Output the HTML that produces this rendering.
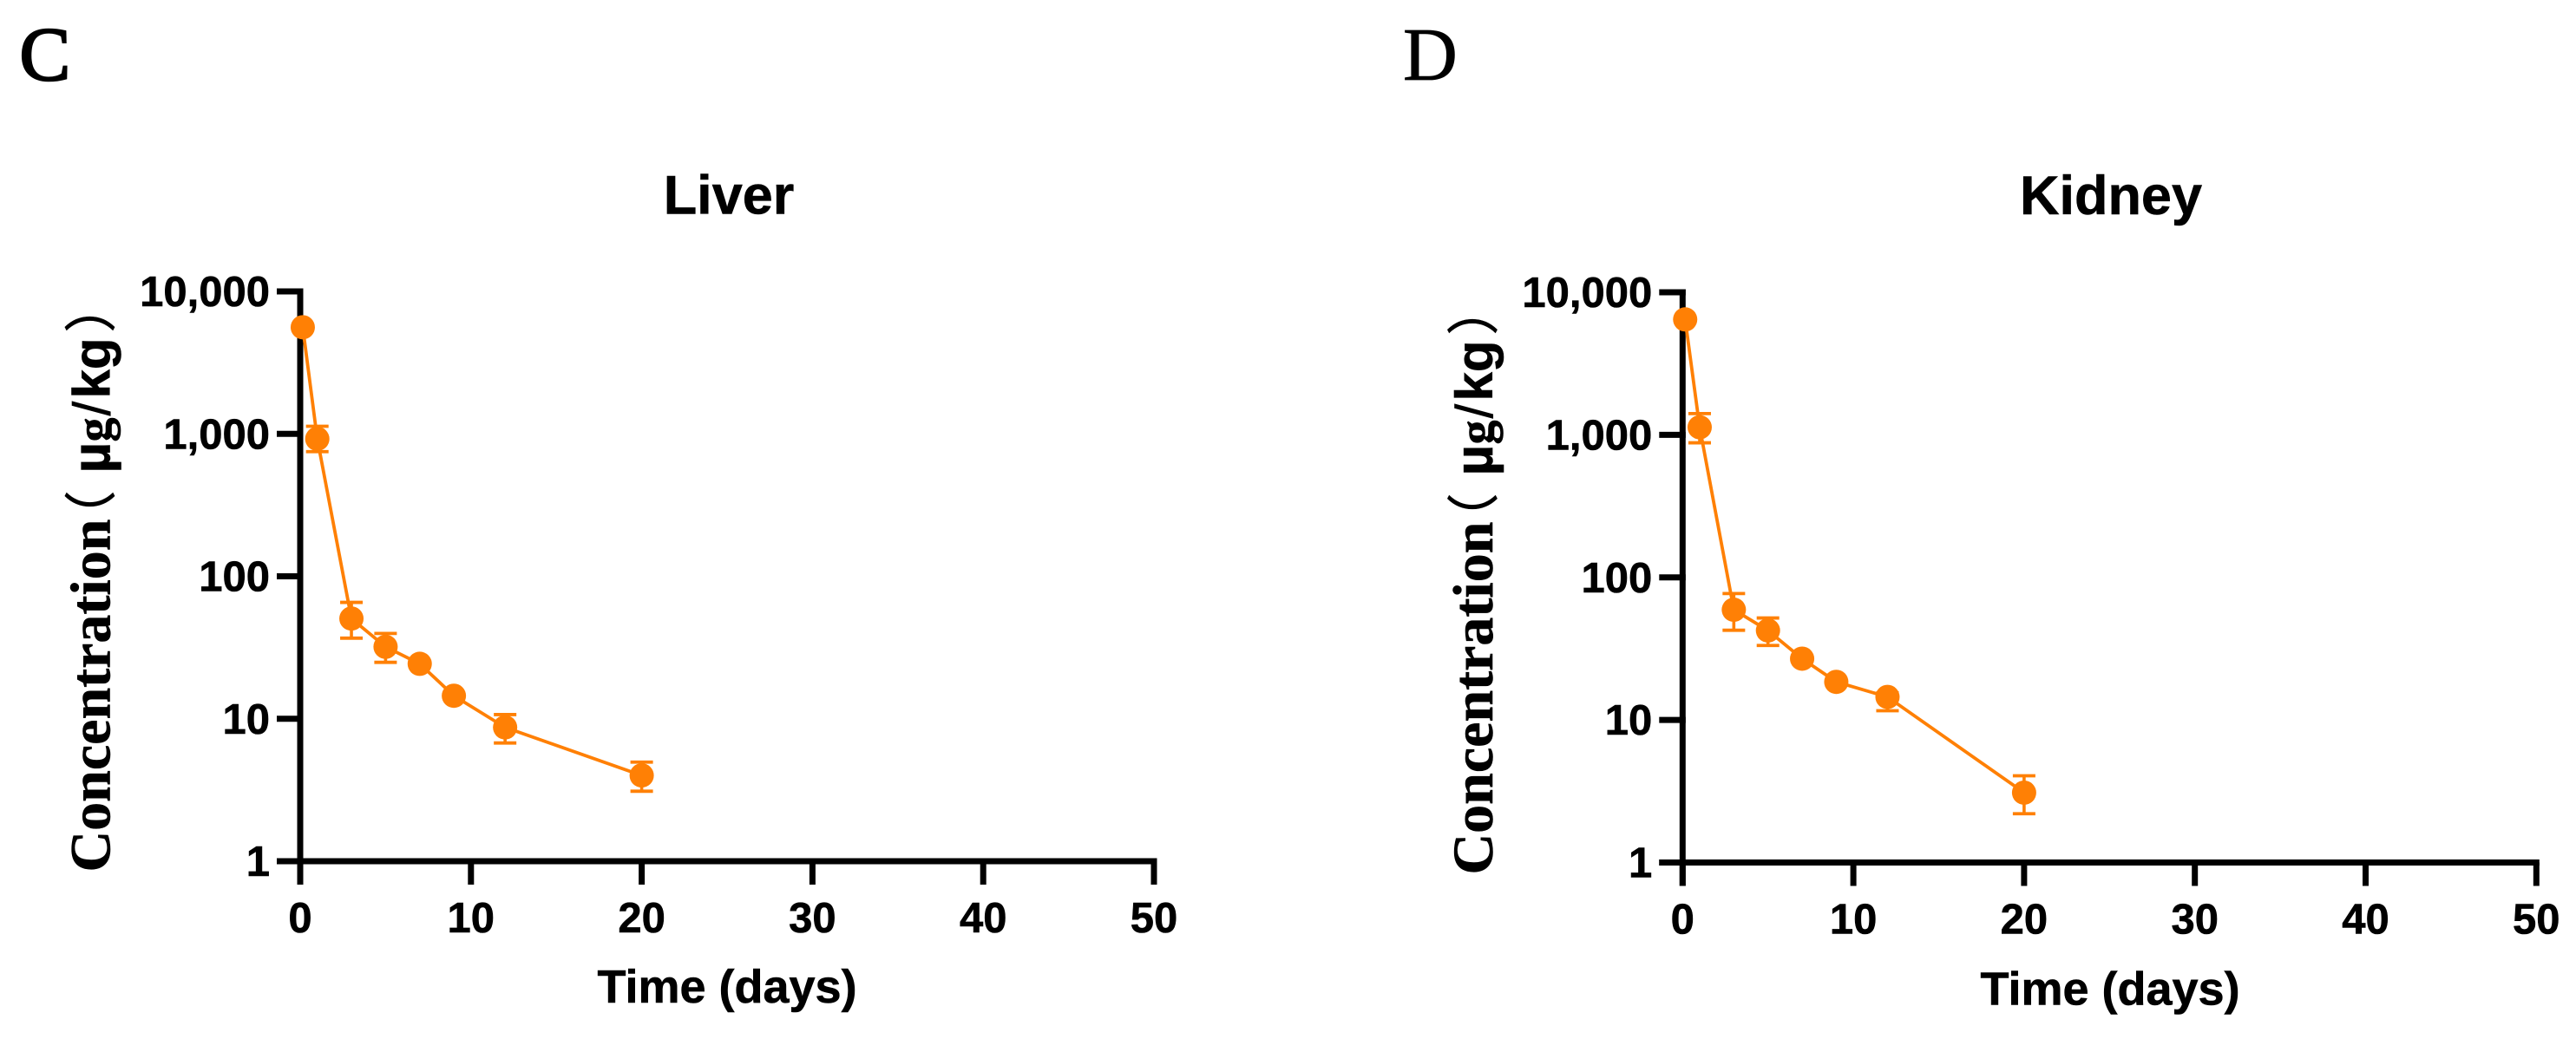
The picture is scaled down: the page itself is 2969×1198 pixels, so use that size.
<!DOCTYPE html>
<html lang="en">
<head>
<meta charset="utf-8">
<title>Liver and Kidney concentration</title>
<style>
html,body{margin:0;padding:0;background:#fff;}
svg{display:block;}
.sans{font-family:"Liberation Sans",Arial,sans-serif;font-weight:bold;fill:#000;stroke:#000;stroke-width:0.6px;}
.serif{font-family:"Liberation Serif","Times New Roman",serif;fill:#000;}
.ytitle{fill:#000;stroke:#000;stroke-width:0.6px;}
</style>
</head>
<body>
<svg id="figure" xmlns="http://www.w3.org/2000/svg" width="2969" height="1198" viewBox="0 0 2969 1198">
  <rect x="0" y="0" width="2969" height="1198" fill="#ffffff"/>

  <text class="serif" x="22.5" y="92" font-size="88" stroke="#000" stroke-width="2.4">C</text>
  <text class="serif" x="1617" y="92" font-size="87" stroke="#000" stroke-width="0.8">D</text>

  <text class="sans" x="840" y="246.5" font-size="63" text-anchor="middle">Liver</text>
  <text class="sans" x="2433" y="247" font-size="63" text-anchor="middle">Kidney</text>

  <text class="sans" x="838" y="1156" font-size="54" text-anchor="middle">Time (days)</text>
  <text class="sans" x="2432" y="1158.5" font-size="54" text-anchor="middle">Time (days)</text>

  <text class="ytitle" transform="translate(126.7,1003.5) rotate(-90)" font-size="66"><tspan x="-2" font-family="'Liberation Serif',serif" font-weight="bold">Concentration</tspan><tspan x="378" y="0" font-family="'Noto Sans CJK SC',sans-serif" font-size="60">（</tspan><tspan x="458" y="0" font-family="'Liberation Sans',sans-serif" font-weight="bold" font-size="62">µ</tspan><tspan x="494" y="0" font-family="'Liberation Serif',serif" font-weight="bold" font-size="56">g</tspan><tspan x="524" y="0" font-family="'Liberation Sans',sans-serif" font-size="60">/</tspan><tspan x="544" y="0" font-family="'Liberation Sans',sans-serif" font-weight="bold" font-size="60">kg</tspan><tspan x="620" y="0" font-family="'Noto Sans CJK SC',sans-serif" font-size="60">）</tspan></text>
  <text class="ytitle" transform="translate(1720,1006.5) rotate(-90)" font-size="66"><tspan x="-2" font-family="'Liberation Serif',serif" font-weight="bold">Concentration</tspan><tspan x="378" y="0" font-family="'Noto Sans CJK SC',sans-serif" font-size="60">（</tspan><tspan x="458" y="0" font-family="'Liberation Sans',sans-serif" font-weight="bold" font-size="62">µ</tspan><tspan x="494" y="0" font-family="'Liberation Serif',serif" font-weight="bold" font-size="56">g</tspan><tspan x="524" y="0" font-family="'Liberation Sans',sans-serif" font-size="60">/</tspan><tspan x="544" y="0" font-family="'Liberation Sans',sans-serif" font-weight="bold" font-size="60">kg</tspan><tspan x="620" y="0" font-family="'Noto Sans CJK SC',sans-serif" font-size="60">）</tspan></text>

  <g id="liver-plot"></g>
  <g id="kidney-plot"></g>
</svg>

<script>
// ----- chart data -----
const days = [0.15, 1, 3, 5, 7, 9, 12, 20];
const liverMean  = [5600, 923, 50.5, 32, 24.3, 14.5, 8.7, 4.0];
const liverUpper = [null, 1130, 65.6, 39.7, null, null, 10.7, 4.96];
const liverLower = [null, 750, 36.8, 24.9, null, null, 6.76, 3.1];
const kidneyMean  = [6450, 1130, 59.3, 42.4, 26.9, 18.5, 14.5, 3.09];
const kidneyUpper = [null, 1410, 77, 51.9, null, null, 15.5, 4.06];
const kidneyLower = [null, 879, 42.6, 33.3, null, null, 11.6, 2.2];
const xTickValues = [0, 10, 20, 30, 40, 50];
const yTickValues = [1, 10, 100, 1000, 10000];
const yTickLabels = ["1", "10", "100", "1,000", "10,000"];

const SVG_NS = "http://www.w3.org/2000/svg";
const ORANGE = "#ff8005";

function makeX(x0, x50) {
  return function (v) { return x0 + (x50 - x0) * v / 50; };
}
function makeY(y1, y10000) {
  return function (v) { return y1 + (y10000 - y1) * Math.log10(v) / 4; };
}
function addLine(parent, x1, y1, x2, y2, color, width) {
  const el = document.createElementNS(SVG_NS, "line");
  el.setAttribute("x1", x1);
  el.setAttribute("y1", y1);
  el.setAttribute("x2", x2);
  el.setAttribute("y2", y2);
  el.setAttribute("stroke", color);
  el.setAttribute("stroke-width", width);
  parent.appendChild(el);
  return el;
}
function addLabel(parent, x, y, anchor, content) {
  const el = document.createElementNS(SVG_NS, "text");
  el.setAttribute("x", x);
  el.setAttribute("y", y);
  el.setAttribute("text-anchor", anchor);
  el.setAttribute("class", "sans");
  el.setAttribute("font-size", "49");
  el.textContent = content;
  parent.appendChild(el);
  return el;
}

function drawPanel(rootId, layout, mean, upper, lower) {
  const root = document.getElementById(rootId);
  const xScale = makeX(layout.x0, layout.x50);
  const yScale = makeY(layout.y1, layout.y10000);
  const axisWidth = 7;
  const half = axisWidth / 2;
  const tickLength = 27;

  // y axis
  const yAxisLine = addLine(root, layout.x0, layout.y10000 - half, layout.x0, layout.y1 + tickLength, "#000", axisWidth);
  
  
  yTickValues.forEach(function (v, i) {
    const yPos = yScale(v);
    const tick = addLine(root, layout.x0 - tickLength, yPos, layout.x0 + half, yPos, "#000", axisWidth);
    
    
    const label = addLabel(root, layout.x0 - 35, yPos + 17, "end", yTickLabels[i]);
    
    
  });

  // x axis
  const xAxisLine = addLine(root, layout.x0 - tickLength, layout.y1, xScale(50) + half, layout.y1, "#000", axisWidth);
  
  
  xTickValues.forEach(function (v) {
    const xPos = xScale(v);
    const tick = addLine(root, xPos, layout.y1, xPos, layout.y1 + tickLength, "#000", axisWidth);
    
    
    const label = addLabel(root, xPos, layout.y1 + 82, "middle", String(v));
    
    
  });

  // connecting line
  const path = document.createElementNS(SVG_NS, "polyline");
  
  
  path.setAttribute("points", days.map(function (d, i) { return xScale(d) + "," + yScale(mean[i]); }).join(" "));
  path.setAttribute("fill", "none");
  path.setAttribute("stroke", ORANGE);
  path.setAttribute("stroke-width", "3.8");
  root.appendChild(path);

  // error bars and markers
  days.forEach(function (d, i) {
    const cx = xScale(d);
    if (upper[i] !== null) {
      const stem = addLine(root, cx, yScale(upper[i]), cx, yScale(lower[i]), ORANGE, 3.6);
      
      
      const capTop = addLine(root, cx - 13, yScale(upper[i]), cx + 13, yScale(upper[i]), ORANGE, 3.8);
      
      
      const capBottom = addLine(root, cx - 13, yScale(lower[i]), cx + 13, yScale(lower[i]), ORANGE, 3.8);
      
      
    }
    const dot = document.createElementNS(SVG_NS, "circle");
    
    
    dot.setAttribute("cx", cx);
    dot.setAttribute("cy", yScale(mean[i]));
    dot.setAttribute("r", "14");
    dot.setAttribute("fill", ORANGE);
    root.appendChild(dot);
  });
}

drawPanel("liver-plot", { x0: 346, x50: 1330, y1: 993, y10000: 336 }, liverMean, liverUpper, liverLower);
drawPanel("kidney-plot", { x0: 1939.3, x50: 2923.3, y1: 994.5, y10000: 337 }, kidneyMean, kidneyUpper, kidneyLower);
</script>
</body>
</html>
